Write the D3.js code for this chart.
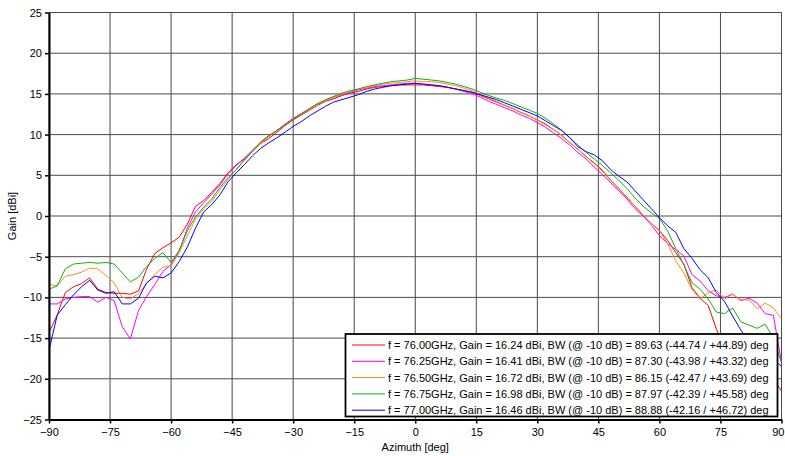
<!DOCTYPE html>
<html>
<head>
<meta charset="utf-8">
<script src="https://cdn.jsdelivr.net/npm/d3@7"></script>
<style>
  html, body { margin: 0; padding: 0; background: #fff; }
  svg { display: block; font-family: "Liberation Sans", Arial, sans-serif; }
</style>
</head>
<body>
<svg id="chart" width="785" height="456"></svg>
<script>
const azimuth = [-90,-88,-86,-84,-82,-80,-78,-76,-74,-72,-70,-68,-66,-64,-62,-60,-58,-56,-54,-52,-50,-48,-46,-44,-42,-40,-38,-36,-34,-32,-30,-28,-26,-24,-22,-20,-18,-16,-14,-12,-10,-8,-6,-4,-2,0,2,4,6,8,10,12,14,16,18,20,22,24,26,28,30,32,34,36,38,40,42,44,46,48,50,52,54,56,58,60,62,64,66,68,70,72,74,76,78,80,82,84,86,88,90];

const gain7600 = [-14.3,-12.2,-9.4,-8.7,-8.3,-7.6,-9.0,-9.4,-9.5,-9.5,-9.6,-9.2,-6.5,-4.6,-3.9,-3.3,-2.6,-1.0,1.2,1.9,2.9,4.0,5.3,6.3,7.0,7.9,8.9,9.5,10.3,11.1,11.8,12.4,13.0,13.6,14.1,14.4,14.8,15.1,15.3,15.6,15.8,15.9,16.0,16.1,16.1,16.1,16.1,16.0,15.9,15.8,15.6,15.4,15.2,14.8,14.4,14.0,13.6,13.2,12.7,12.3,11.8,11.3,10.6,9.9,9.0,8.2,7.3,6.5,5.6,4.4,3.4,2.3,1.2,0.1,-0.9,-1.8,-3.0,-4.5,-5.9,-8.8,-10.1,-11.0,-13.9,-16.0,-17.0,-18.0,-18.5,-19.0,-19.5,-20.0,-21.5];
const gain7625 = [-10.8,-10.8,-10.2,-10.0,-9.9,-9.9,-10.6,-10.0,-10.4,-13.6,-15.1,-11.6,-9.9,-8.4,-6.8,-6.0,-4.3,-1.5,0.5,1.6,2.7,3.8,5.2,6.2,7.1,8.1,9.0,9.8,10.5,11.3,12.0,12.6,13.2,13.8,14.2,14.6,14.9,15.2,15.5,15.7,15.9,16.0,16.1,16.2,16.3,16.3,16.2,16.1,16.0,15.8,15.6,15.3,15.0,14.6,14.1,13.7,13.3,12.9,12.4,12.0,11.5,10.9,10.2,9.5,8.7,7.8,7.0,6.0,5.1,4.1,3.1,2.1,0.9,0.0,-1.1,-2.4,-3.4,-4.1,-4.9,-7.2,-8.0,-9.2,-9.8,-10.0,-9.6,-10.4,-10.1,-10.7,-12.0,-12.2,-18.0];
const gain7650 = [-8.4,-8.6,-7.4,-7.2,-6.9,-6.4,-6.5,-7.3,-8.2,-10.0,-10.2,-9.5,-8.3,-7.2,-6.3,-6.1,-4.5,-2.4,-0.4,0.9,1.8,3.2,4.5,5.7,6.8,7.9,8.9,9.7,10.5,11.2,11.9,12.5,13.1,13.7,14.2,14.6,15.0,15.3,15.6,15.8,16.0,16.2,16.3,16.4,16.5,16.6,16.5,16.5,16.4,16.2,16.0,15.7,15.4,14.9,14.5,14.1,13.6,13.2,12.7,12.3,11.8,11.2,10.6,9.9,9.0,8.2,7.3,6.4,5.5,4.4,3.3,2.3,1.2,0.1,-0.9,-1.8,-3.4,-5.5,-7.0,-9.0,-10.2,-9.4,-9.1,-10.2,-9.6,-10.3,-10.3,-11.4,-10.7,-11.3,-12.6];
const gain7675 = [-9.0,-8.6,-6.5,-5.9,-5.8,-5.7,-5.8,-5.7,-5.9,-7.0,-8.1,-7.5,-6.2,-5.2,-4.5,-5.7,-4.2,-1.8,-0.1,1.1,2.1,3.5,4.7,5.7,6.9,8.0,9.1,9.9,10.5,11.2,11.9,12.5,13.2,13.8,14.3,14.7,15.1,15.4,15.6,15.9,16.1,16.3,16.5,16.6,16.7,16.9,16.8,16.7,16.6,16.4,16.2,15.9,15.6,15.2,14.8,14.5,14.2,13.8,13.4,13.0,12.6,12.0,11.3,10.5,9.6,8.7,7.8,7.0,6.2,5.3,4.4,3.4,2.2,1.2,0.4,-0.3,-1.8,-4.0,-6.0,-8.2,-9.0,-10.2,-11.8,-12.0,-11.3,-13.0,-13.4,-13.8,-13.3,-15.0,-18.0];
const gain7700 = [-16.5,-12.2,-10.9,-9.7,-8.7,-7.9,-9.1,-9.5,-9.3,-10.8,-10.8,-10.1,-8.2,-7.4,-7.6,-7.0,-5.6,-3.8,-1.5,0.5,1.4,2.6,4.2,5.3,6.3,7.4,8.3,9.0,9.6,10.3,11.0,11.6,12.3,12.9,13.5,14.0,14.3,14.6,14.9,15.3,15.6,15.8,16.0,16.1,16.2,16.3,16.2,16.1,16.0,15.8,15.6,15.4,15.2,14.9,14.6,14.3,13.9,13.5,13.1,12.7,12.3,11.7,11.1,10.5,9.6,8.5,7.9,7.5,6.8,5.7,4.9,4.2,3.1,2.0,0.9,-0.2,-1.2,-2.0,-4.0,-5.2,-6.6,-7.6,-9.4,-10.5,-12.3,-14.0,-15.5,-16.5,-17.0,-17.5,-18.5];

const seriesLabels = [
  "f = 76.00GHz, Gain = 16.24 dBi, BW (@ -10 dB) = 89.63 (-44.74 / +44.89) deg",
  "f = 76.25GHz, Gain = 16.41 dBi, BW (@ -10 dB) = 87.30 (-43.98 / +43.32) deg",
  "f = 76.50GHz, Gain = 16.72 dBi, BW (@ -10 dB) = 86.15 (-42.47 / +43.69) deg",
  "f = 76.75GHz, Gain = 16.98 dBi, BW (@ -10 dB) = 87.97 (-42.39 / +45.58) deg",
  "f = 77.00GHz, Gain = 16.46 dBi, BW (@ -10 dB) = 88.88 (-42.16 / +46.72) deg"
];
const seriesValues = [gain7600, gain7625, gain7650, gain7675, gain7700];
const seriesColors = ["#ff0000", "#ff00ff", "#ff8a1c", "#10b010", "#0000ff"];

const xTicks = [-90,-75,-60,-45,-30,-15,0,15,30,45,60,75,90];
const yTicks = [-25,-20,-15,-10,-5,0,5,10,15,20,25];
const xTitle = "Azimuth [deg]";
const yTitle = "Gain [dBi]";

const svg = d3.select("#chart");
const L = 49, R = 781.5, T = 12.5, B = 419.5;
const x = d3.scaleLinear().domain([-90, 90]).range([L, R]);
const y = d3.scaleLinear().domain([-25, 25]).range([B, T]);

// grid
const grid = svg.append("g");
grid.selectAll("line.v").data(xTicks).join("line")
  .attr("x1", d => x(d)).attr("x2", d => x(d)).attr("y1", T).attr("y2", B)
  .attr("stroke", "#4a4a4a").attr("stroke-width", 1);
grid.selectAll("line.h").data(yTicks).join("line")
  .attr("y1", d => y(d)).attr("y2", d => y(d)).attr("x1", L).attr("x2", R)
  .attr("stroke", "#4a4a4a").attr("stroke-width", 1);

// lines
svg.append("clipPath").attr("id", "clip").append("rect")
  .attr("x", L).attr("y", T).attr("width", R - L).attr("height", B - T);
const line = d3.line().x((d, i) => x(azimuth[i])).y(d => y(d));
svg.append("g").attr("clip-path", "url(#clip)")
  .selectAll("path").data(seriesValues).join("path")
  .attr("d", d => line(d)).attr("fill", "none")
  .attr("stroke", (d, i) => seriesColors[i]).attr("stroke-width", 1);

// axes
const xAxis = svg.append("g").attr("transform", `translate(0,${B})`)
  .call(d3.axisBottom(x).tickValues(xTicks).tickSize(4).tickSizeOuter(0).tickFormat(d3.format("d")));
const yAxis = svg.append("g").attr("transform", `translate(${L},0)`)
  .call(d3.axisLeft(y).tickValues(yTicks).tickSize(4).tickSizeOuter(0).tickFormat(d3.format("d")));
[xAxis, yAxis].forEach(a => {
  a.select(".domain").attr("stroke", "#000").attr("stroke-width", 2);
  a.selectAll(".tick line").attr("stroke", "#000").attr("stroke-width", 1.5);
  a.selectAll(".tick text").attr("fill", "#000").style("font-size", "11px")
    .style("font-family", '"Liberation Sans", Arial, sans-serif');
});
xAxis.selectAll(".tick text").attr("dy", "0.9em");
// keep the last x label inside the picture
xAxis.selectAll(".tick").filter(d => d === 90).select("text")
  .attr("text-anchor", "end").attr("x", 784 - x(90));

svg.append("text").attr("x", (L + R) / 2).attr("y", 451).attr("text-anchor", "middle")
  .style("font-size", "11px").text(xTitle);
svg.append("text").attr("transform", `translate(16,${(T + B) / 2}) rotate(-90)`)
  .attr("text-anchor", "middle").style("font-size", "11px").text(yTitle);

// legend
const lg = svg.append("g");
lg.append("rect").attr("x", 345.5).attr("y", 334).attr("width", 432).attr("height", 82.5)
  .attr("fill", "#fff").attr("stroke", "#000").attr("stroke-width", 1.8);
seriesLabels.forEach((lab, i) => {
  const yy = 345 + i * 16.3;
  lg.append("line").attr("x1", 352).attr("x2", 385).attr("y1", yy).attr("y2", yy)
    .attr("stroke", seriesColors[i]).attr("stroke-width", 1);
  lg.append("text").attr("x", 388).attr("y", yy + 4).style("font-size", "11px").text(lab);
});
</script>
</body>
</html>
